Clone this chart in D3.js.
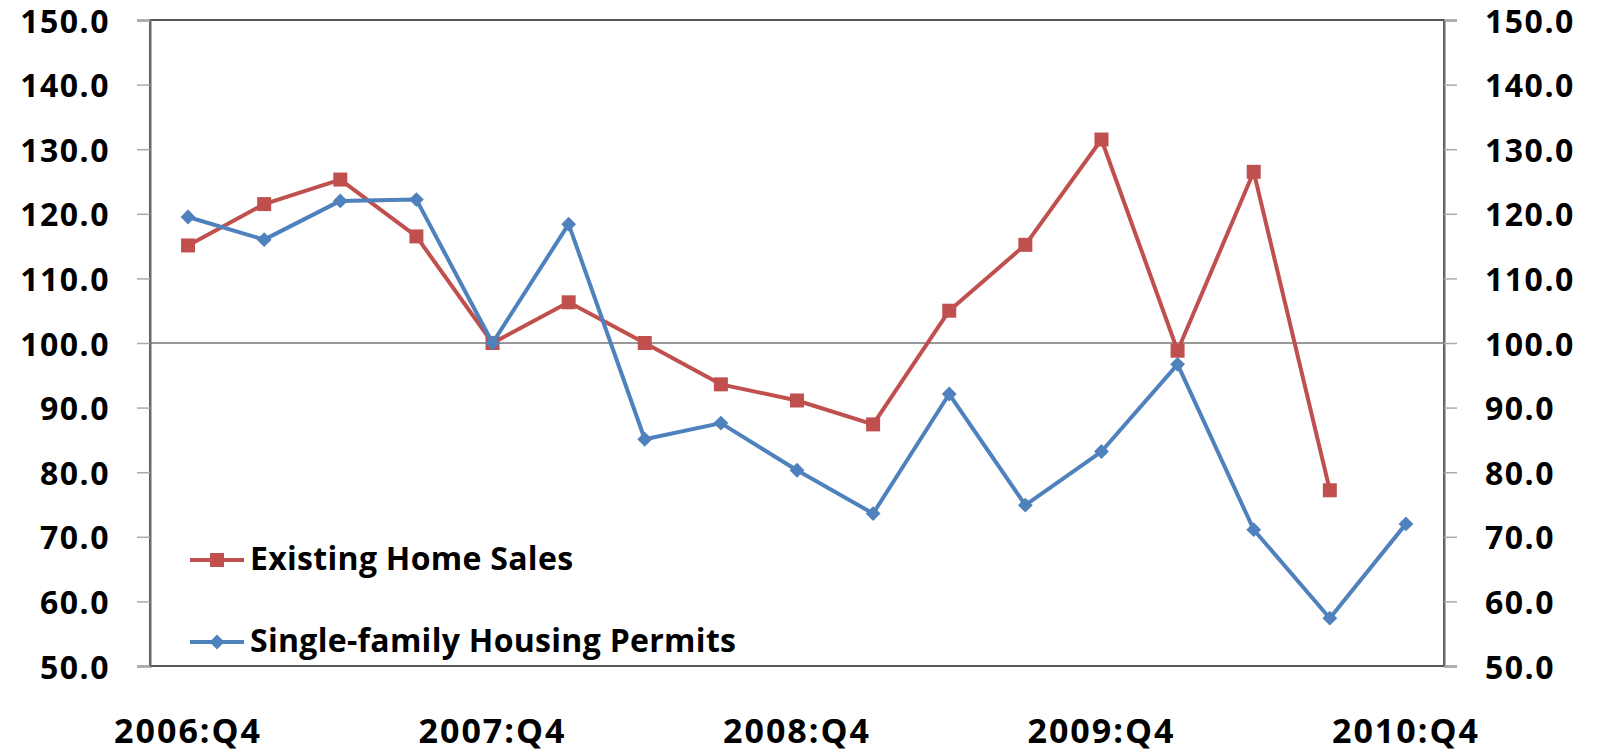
<!DOCTYPE html>
<html>
<head>
<meta charset="utf-8">
<script src="https://cdn.jsdelivr.net/npm/d3@7"></script>
<style>
  body { margin: 0; background: #fff; }
  text { font-family: "Open Sans", "DejaVu Sans", sans-serif; font-weight: 700; fill: #000; }
</style>
</head>
<body>
<div id="chart"></div>
<script>
// quarters along the bottom
var quarters = ["2006:Q4",
    "2007:Q1", "2007:Q2", "2007:Q3", "2007:Q4",
    "2008:Q1", "2008:Q2", "2008:Q3", "2008:Q4",
    "2009:Q1", "2009:Q2", "2009:Q3", "2009:Q4",
    "2010:Q1", "2010:Q2", "2010:Q3", "2010:Q4"];

var xLabels = ["2006:Q4", "2007:Q4", "2008:Q4", "2009:Q4", "2010:Q4"];

// index, 2007:Q4 = 100
var existingHomeSales = [115.1, 121.5, 125.3, 116.5, 100.0, 106.3, 100.0, 93.6, 91.1,
    87.4, 105.0, 115.2, 131.5, 98.8, 126.5, 77.2, null];
var housingPermits = [119.5, 116.0, 122.0, 122.2, 100.0, 118.4, 85.1, 87.6, 80.3,
    73.6, 92.1, 74.9, 83.2, 96.7, 71.1, 57.4, 72.0];

var yTicks = [50, 60, 70, 80, 90, 100, 110, 120, 130, 140, 150];

var seriesNames = ["Existing Home Sales", "Single-family Housing Permits"];
var seriesColors = ["#C0504D", "#4F81BD"];

var width = 1598, height = 755;
// plot area (window.top is read-only, so no "top" here)
var plotL = 150, plotR = 1444, plotT = 20, plotB = 666;

var svg = d3.select("#chart").append("svg")
    .attr("width", width)
    .attr("height", height);

var x = d3.scaleBand().domain(quarters).range([plotL, plotR]);
var y = d3.scaleLinear().domain([50, 150]).range([plotB, plotT]);

function cx(q) { return x(q) + x.bandwidth() / 2; }

// plot frame
svg.append("rect")
    .attr("x", plotL)
    .attr("y", plotT)
    .attr("width", plotR - plotL)
    .attr("height", plotB - plotT)
    .style("fill", "none")
    .style("stroke", "#222")
    .style("stroke-width", 1.5);

// line at 100
svg.append("line")
    .attr("x1", plotL)
    .attr("x2", plotR)
    .attr("y1", y(100))
    .attr("y2", y(100))
    .style("stroke", "#999")
    .style("stroke-width", 2);

// left axis
var yLeft = svg.append("g")
    .attr("transform", "translate(" + plotL + ",0)")
    .call(d3.axisLeft(y).tickValues(yTicks).tickSize(13).tickPadding(27).tickFormat(d3.format(".1f")));

// right axis
var yRight = svg.append("g")
    .attr("transform", "translate(" + plotR + ",0)")
    .call(d3.axisRight(y).tickValues(yTicks).tickSize(13).tickPadding(28).tickFormat(d3.format(".1f")));

[yLeft, yRight].forEach(function (g) {
    g.select(".domain").style("stroke", "#6b6b6b").style("stroke-width", 2);
    g.selectAll(".tick line").style("stroke", "#aaa").style("stroke-width", 1.5);
    g.selectAll(".tick text")
        .style("font-size", "32px")
        .style("letter-spacing", "1.5px")
        .attr("dy", "0.38em");
});

// x labels
var xAxis = svg.append("g")
    .attr("transform", "translate(0," + plotB + ")")
    .call(d3.axisBottom(x).tickValues(xLabels).tickSize(0));
xAxis.select(".domain").remove();
xAxis.selectAll(".tick text")
    .attr("y", 77)
    .attr("dy", 0)
    .style("font-size", "34px")
    .style("letter-spacing", "2px");

// series
var data = [existingHomeSales, housingPermits];

var line = d3.line()
    .defined(function (d) { return d != null; })
    .x(function (d, i) { return cx(quarters[i]); })
    .y(function (d) { return y(d); });

var squareSym = d3.symbol().type(d3.symbolSquare).size(196);
var diamondSym = d3.symbol().type(d3.symbolSquare).size(110);

data.forEach(function (vals, s) {
    svg.append("path")
        .datum(vals)
        .attr("d", line)
        .style("fill", "none")
        .style("stroke", seriesColors[s])
        .style("stroke-width", 4)
        .style("stroke-linejoin", "round");

    svg.selectAll(".mark" + s)
        .data(vals.map(function (v, i) { return { q: quarters[i], v: v }; })
            .filter(function (d) { return d.v != null; }))
        .enter()
        .append("path")
        .attr("class", "mark" + s)
        .attr("d", s === 0 ? squareSym : diamondSym)
        .attr("transform", function (d) {
            return "translate(" + cx(d.q) + "," + y(d.v) + ")" + (s === 1 ? " rotate(45)" : "");
        })
        .style("fill", seriesColors[s]);
});

// legend
var legendRows = [560, 642];
seriesNames.forEach(function (name, s) {
    var g = svg.append("g").attr("transform", "translate(190," + legendRows[s] + ")");
    g.append("line")
        .attr("x1", 0)
        .attr("x2", 54)
        .style("stroke", seriesColors[s])
        .style("stroke-width", 4);
    g.append("path")
        .attr("d", s === 0 ? squareSym : diamondSym)
        .attr("transform", "translate(27,0)" + (s === 1 ? " rotate(45)" : ""))
        .style("fill", seriesColors[s]);
    g.append("text")
        .attr("x", 60)
        .attr("y", 10)
        .style("font-size", "32px")
        .style("letter-spacing", "0.3px")
        .text(name);
});
</script>
</body>
</html>
